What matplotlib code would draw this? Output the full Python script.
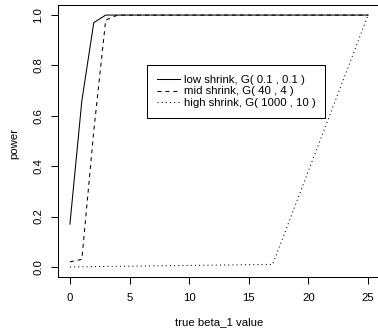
import matplotlib
matplotlib.use("Agg")
import matplotlib.pyplot as plt

plt.rcParams['font.family'] = ['Liberation Sans', 'DejaVu Sans']

# power curves
beta_low = [0, 1, 2, 3, 25]
power_low = [0.17, 0.66, 0.97, 1.0, 1.0]
beta_mid = [0, 1, 2, 3, 4, 25]
power_mid = [0.02, 0.03, 0.54, 0.98, 1.0, 1.0]
beta_high = [0, 17, 25]
power_high = [0.0, 0.01, 1.0]

labels = ['low shrink, G( 0.1 , 0.1 )',
          'mid shrink, G( 40 , 4 )',
          'high shrink, G( 1000 , 10 )']
xticks = [0, 5, 10, 15, 20, 25]
yticks = [0.0, 0.2, 0.4, 0.6, 0.8, 1.0]

fs = 8.2
lw = 0.75

fig = plt.figure(figsize=(3.78, 3.30), dpi=100)
ax = fig.add_axes([58 / 378, 53 / 330, 322 / 378, 272 / 330])

ax.plot(beta_low, power_low, color='black', lw=lw, linestyle='-', label=labels[0])
ax.plot(beta_mid, power_mid, color='black', lw=lw, linestyle=(0, (3.8, 3.8)), label=labels[1])
ax.plot(beta_high, power_high, color='black', lw=lw, linestyle=(0, (1, 3)), label=labels[2])

ax.set_xlim(-1, 26)
ax.set_ylim(-0.04, 1.04)
ax.set_xticks(xticks)
ax.set_xticklabels([str(t) for t in xticks], fontsize=fs)
ax.set_yticks(yticks)
ax.set_yticklabels(['%.1f' % t for t in yticks], fontsize=fs, rotation=90, va='center')
ax.tick_params(axis='both', direction='out', length=5, width=lw, color='black')
ax.tick_params(axis='x', pad=6.3)
ax.tick_params(axis='y', pad=5.5)
for s in ax.spines.values():
    s.set_linewidth(lw)
    s.set_color('black')

ax.set_xlabel('true beta_1 value', fontsize=fs, va='baseline')
ax.xaxis.set_label_coords(0.5, -0.176)
ax.set_ylabel('power', fontsize=fs, va='center', ha='center')
ax.yaxis.set_label_coords(-0.135, 0.49)

leg = ax.legend(loc='upper left', bbox_to_anchor=(6.45, 0.80), bbox_transform=ax.transData,
                borderaxespad=0, fontsize=fs, frameon=True, fancybox=False,
                edgecolor='black', framealpha=1, borderpad=0.85, labelspacing=0.12,
                handlelength=2.05, handletextpad=0.35)
leg.get_frame().set_linewidth(lw)

fig.savefig('out.png', dpi=100)
